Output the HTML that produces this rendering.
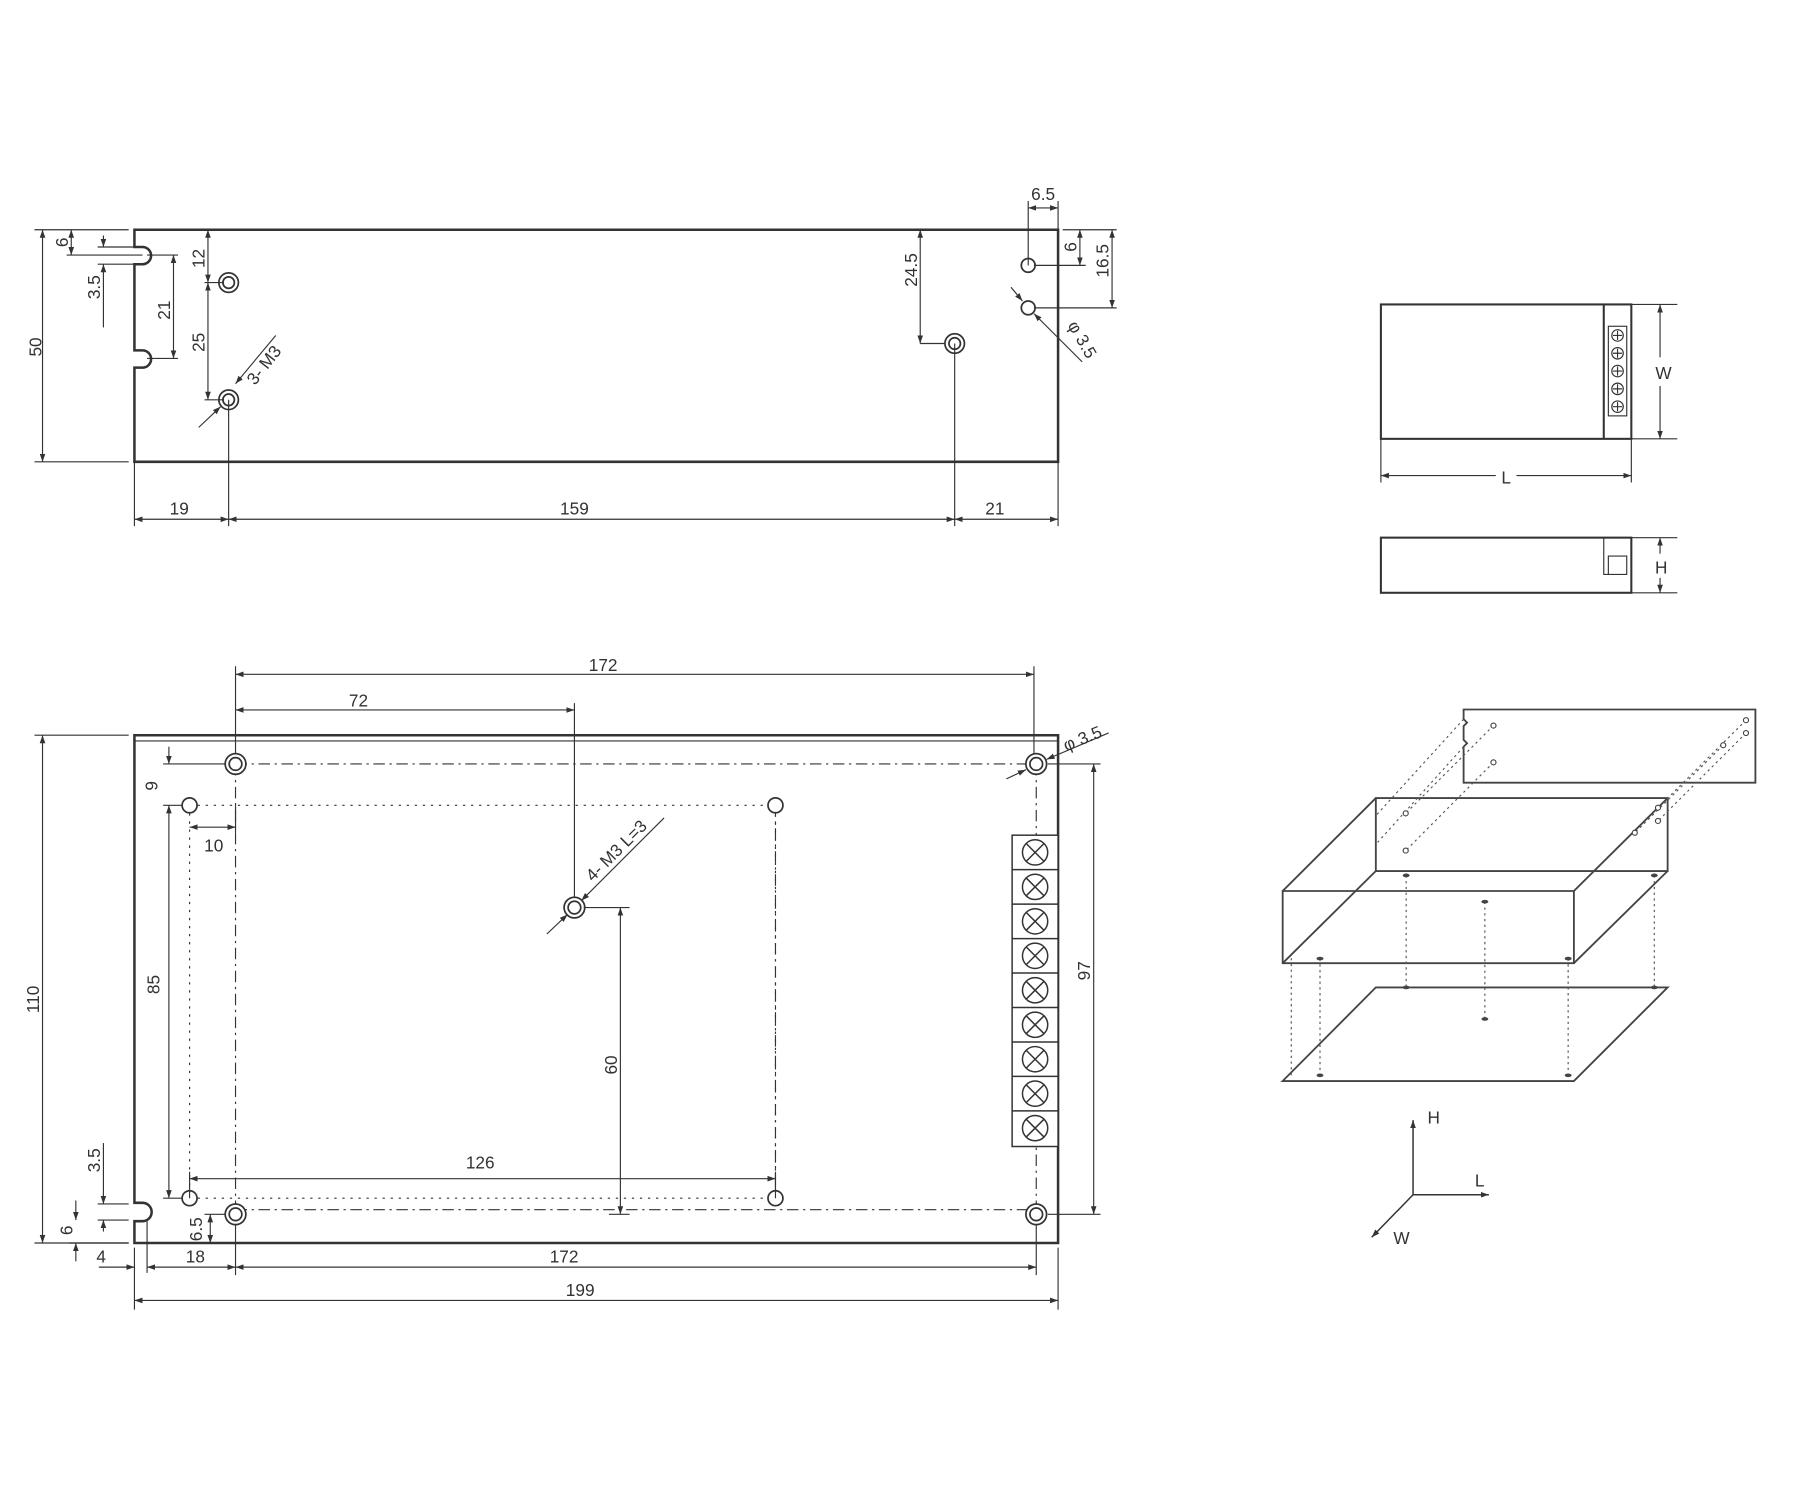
<!DOCTYPE html>
<html><head><meta charset="utf-8"><style>
html,body{margin:0;padding:0;background:#fff;width:1800px;height:1500px;overflow:hidden}
svg{display:block}
text{font-family:"Liberation Sans",sans-serif;font-size:15px;fill:#333}
</style></head><body>
<svg width="1800" height="1500" viewBox="0 0 1566.8 1305.7" xmlns="http://www.w3.org/2000/svg">
<defs>
<marker id="a" viewBox="0 0 10 10" refX="10" refY="5" markerWidth="7" markerHeight="7" orient="auto-start-reverse" markerUnits="userSpaceOnUse"><path d="M0,1.5 L10,5 L0,8.5z" fill="#333"/></marker>
</defs>
<g stroke="#333" fill="none">
<path d="M117,200 H921 V402 H117 V320 H124 A7.5,7.5 0 0 0 124,305 H117 V230 H124 A7.5,7.5 0 0 0 124,215 H117 Z" stroke-width="2.2"/>
<g stroke-width="1.5">
<circle cx="199" cy="246" r="8.5"/><circle cx="199" cy="246" r="5"/>
<circle cx="199" cy="348" r="8.5"/><circle cx="199" cy="348" r="5"/>
<circle cx="831" cy="299" r="8.5"/><circle cx="831" cy="299" r="5"/>
<circle cx="895" cy="231" r="6"/><circle cx="895" cy="268" r="6"/>
</g>
<g stroke-width="1">
<path d="M30,200 H112 M30,402 H112"/>
<line x1="37" y1="200" x2="37" y2="402" marker-start="url(#a)" marker-end="url(#a)"/>
<path d="M58,222 H124 M85,215 H117 M85,230 H117"/>
<line x1="62" y1="200" x2="62" y2="222" marker-start="url(#a)" marker-end="url(#a)"/>
<line x1="90" y1="205" x2="90" y2="215" marker-end="url(#a)"/>
<line x1="90" y1="285" x2="90" y2="230" marker-end="url(#a)"/>
<path d="M128,222 H155 M128,312 H155"/>
<line x1="151" y1="222" x2="151" y2="312" marker-start="url(#a)" marker-end="url(#a)"/>
<path d="M178,246 H195 M178,348 H195"/>
<line x1="181" y1="200" x2="181" y2="246" marker-start="url(#a)" marker-end="url(#a)"/>
<line x1="181" y1="246" x2="181" y2="348" marker-start="url(#a)" marker-end="url(#a)"/>
<line x1="240" y1="292" x2="205" y2="334" marker-end="url(#a)"/>
<line x1="173" y1="372" x2="192" y2="354" marker-end="url(#a)"/>
<path d="M801,299 H822"/>
<line x1="801" y1="200" x2="801" y2="299" marker-start="url(#a)" marker-end="url(#a)"/>
<path d="M895,175 V231 M921,175 V200"/>
<line x1="895" y1="181" x2="921" y2="181" marker-start="url(#a)" marker-end="url(#a)"/>
<path d="M925,200 H972 M900,231 H945 M900,268 H972"/>
<line x1="940" y1="200" x2="940" y2="231" marker-start="url(#a)" marker-end="url(#a)"/>
<line x1="968" y1="200" x2="968" y2="268" marker-start="url(#a)" marker-end="url(#a)"/>
<line x1="880" y1="250" x2="890" y2="262" marker-end="url(#a)"/>
<line x1="942" y1="315" x2="900" y2="273" marker-end="url(#a)"/>
<path d="M117,402 V458 M199,348 V458 M831,299 V458 M921,402 V458"/>
<line x1="117" y1="452" x2="199" y2="452" marker-start="url(#a)" marker-end="url(#a)"/>
<line x1="199" y1="452" x2="831" y2="452" marker-start="url(#a)" marker-end="url(#a)"/>
<line x1="831" y1="452" x2="921" y2="452" marker-start="url(#a)" marker-end="url(#a)"/>
</g>

<g stroke-width="1.8">
<rect x="1202" y="265" width="218" height="117"/>
<line x1="1396" y1="265" x2="1396" y2="382"/>
<rect x="1202" y="468" width="218" height="48"/>
</g>
<g stroke-width="1">
<rect x="1400" y="284" width="16" height="78"/>
<g>
<circle cx="1408" cy="292" r="5"/><circle cx="1408" cy="307.5" r="5"/><circle cx="1408" cy="323" r="5"/><circle cx="1408" cy="338.5" r="5"/><circle cx="1408" cy="354" r="5"/>
<path d="M1404,292h8M1408,288v8 M1404,307.5h8M1408,303.5v8 M1404,323h8M1408,319v8 M1404,338.5h8M1408,334.5v8 M1404,354h8M1408,350v8"/>
</g>
<path d="M1396,468 V500 H1416 V484 H1400 V500"/>
<path d="M1420,265 H1460 M1420,382 H1460 M1420,468 H1460 M1420,516 H1460 M1202,382 V420 M1420,382 V420"/>
<line x1="1445" y1="265" x2="1445" y2="311" marker-start="url(#a)"/>
<line x1="1445" y1="336" x2="1445" y2="382" marker-end="url(#a)"/>
<line x1="1445" y1="468" x2="1445" y2="482" marker-start="url(#a)"/>
<line x1="1445" y1="503" x2="1445" y2="516" marker-end="url(#a)"/>
<line x1="1202" y1="414" x2="1302" y2="414" marker-start="url(#a)"/>
<line x1="1320" y1="414" x2="1420" y2="414" marker-end="url(#a)"/>
</g>

<path d="M117,640 H921 V1082 H117 V1063 H124 A8,8 0 0 0 124,1047 H117 Z" stroke-width="2.2"/>
<line x1="117" y1="645" x2="921" y2="645" stroke-width="1"/>
<g stroke-width="1" stroke-dasharray="2,5">
<path d="M165,701 H675 V1043 M165,701 V1043 M165,1043 H675"/>
</g>
<g stroke-width="1" stroke-dasharray="10,4,2,4">
<path d="M205,665 H902 M205,1053 H902 M205,665 V1057 M902,665 V1057 M675,701 V1043"/>
</g>
<g stroke-width="1.5" fill="#fff">
<circle cx="205" cy="665" r="9"/><circle cx="205" cy="665" r="5.5"/>
<circle cx="902" cy="665" r="9"/><circle cx="902" cy="665" r="5.5"/>
<circle cx="205" cy="1057" r="9"/><circle cx="205" cy="1057" r="5.5"/>
<circle cx="902" cy="1057" r="9"/><circle cx="902" cy="1057" r="5.5"/>
<circle cx="500" cy="790" r="9"/><circle cx="500" cy="790" r="5.5"/>
<circle cx="165" cy="701" r="6.5"/><circle cx="675" cy="701" r="6.5"/>
<circle cx="165" cy="1043" r="6.5"/><circle cx="675" cy="1043" r="6.5"/>
</g>
<g stroke-width="1.3" fill="#fff">
<rect x="881" y="727" width="40" height="271"/>
<path d="M881,757h40M881,787h40M881,817h40M881,847h40M881,877h40M881,907h40M881,937h40M881,967h40"/>
<g>
<circle cx="901" cy="742" r="11"/><circle cx="901" cy="772" r="11"/><circle cx="901" cy="802" r="11"/><circle cx="901" cy="832" r="11"/><circle cx="901" cy="862" r="11"/><circle cx="901" cy="892" r="11"/><circle cx="901" cy="922" r="11"/><circle cx="901" cy="952" r="11"/><circle cx="901" cy="982" r="11"/>
</g>
<path d="M893,734l16,16M909,734l-16,16 M893,764l16,16M909,764l-16,16 M893,794l16,16M909,794l-16,16 M893,824l16,16M909,824l-16,16 M893,854l16,16M909,854l-16,16 M893,884l16,16M909,884l-16,16 M893,914l16,16M909,914l-16,16 M893,944l16,16M909,944l-16,16 M893,974l16,16M909,974l-16,16"/>
</g>
<g stroke-width="1">
<path d="M205,580 V656 M900,580 V656 M500,612 V781"/>
<line x1="205" y1="587" x2="900" y2="587" marker-start="url(#a)" marker-end="url(#a)"/>
<line x1="205" y1="618" x2="500" y2="618" marker-start="url(#a)" marker-end="url(#a)"/>
<path d="M30,640 H112 M30,1082 H112"/>
<line x1="37" y1="640" x2="37" y2="1082" marker-start="url(#a)" marker-end="url(#a)"/>
<path d="M142,665 H196 M142,701 H158"/>
<line x1="147" y1="650" x2="147" y2="665" marker-end="url(#a)"/>
<line x1="147" y1="701" x2="147" y2="1043" marker-start="url(#a)" marker-end="url(#a)"/>
<path d="M142,1043 H158 M165,1043 V1020 M675,1043 V1020 M205,701 V725"/>
<line x1="165" y1="720" x2="205" y2="720" marker-start="url(#a)" marker-end="url(#a)"/>
<line x1="165" y1="1026" x2="675" y2="1026" marker-start="url(#a)" marker-end="url(#a)"/>
<path d="M508,790 H548 M530,1057 H548"/>
<line x1="540" y1="790" x2="540" y2="1057" marker-start="url(#a)" marker-end="url(#a)"/>
<path d="M912,665 H958 M912,1057 H958"/>
<line x1="952" y1="665" x2="952" y2="1057" marker-start="url(#a)" marker-end="url(#a)"/>
<line x1="578" y1="712" x2="506" y2="784" marker-end="url(#a)"/>
<line x1="476" y1="813" x2="494" y2="796" marker-end="url(#a)"/>
<line x1="965" y1="638" x2="911" y2="661" marker-end="url(#a)"/>
<line x1="876" y1="678" x2="893" y2="670" marker-end="url(#a)"/>
<path d="M85,1048 H112 M85,1062 H112 M60,1082 H112"/>
<line x1="90" y1="995" x2="90" y2="1048" marker-end="url(#a)"/>
<line x1="90" y1="1072" x2="90" y2="1062" marker-end="url(#a)"/>
<line x1="66" y1="1045" x2="66" y2="1062" marker-end="url(#a)"/>
<line x1="66" y1="1098" x2="66" y2="1082" marker-end="url(#a)"/>
<path d="M178,1057 H196"/>
<line x1="183" y1="1057" x2="183" y2="1082" marker-start="url(#a)" marker-end="url(#a)"/>
<path d="M117,1086 V1140 M128,1063 V1108 M205,1066 V1110 M902,1066 V1110 M921,1086 V1140"/>
<line x1="86" y1="1103" x2="117" y2="1103" marker-end="url(#a)"/>
<line x1="128" y1="1103" x2="205" y2="1103" marker-start="url(#a)" marker-end="url(#a)"/>
<line x1="205" y1="1103" x2="902" y2="1103" marker-start="url(#a)" marker-end="url(#a)"/>
<line x1="117" y1="1132" x2="921" y2="1132" marker-start="url(#a)" marker-end="url(#a)"/>
</g>

<g stroke-width="1.6" stroke="#444">
<path d="M1274,617.6 H1528 V681.3 H1274 V650 l3,-3 -3,-3 V632 l3,-3 -3,-3 Z"/>
<path d="M1197.6,694.7 H1451.6 V758.2 H1197.6 Z"/>
<path d="M1116.5,775.6 H1370 V838.4 H1116.5 Z"/>
<path d="M1116.5,775.6 L1197.6,694.7 M1116.5,838.4 L1197.6,758.2 M1370,775.6 L1451.6,694.7 M1370,838.4 L1451.6,758.2"/>
<path d="M1197.6,859.5 H1451.6 L1370,941 H1116.5 Z"/>
</g>
<g stroke-width="1" stroke="#555" stroke-dasharray="2,3">
<path d="M1274,626 L1197.6,710 M1274,650 L1197.6,735 M1300,631.6 L1223.6,708 M1300,663.6 L1223.6,740.4"/>
<path d="M1519.8,626.9 L1443.2,703.1 M1519.8,638.1 L1443.2,714.6 M1500,648.7 L1423,724.9"/>
<path d="M1224,762 V859.5 M1440,762 V859.5 M1292.5,784.9 V887 M1149,834.4 V936 M1124,834 V936 M1365,834.4 V936"/>
</g>
<g stroke-width="1" stroke="#444" fill="#fff">
<circle cx="1300" cy="631.6" r="2.2"/><circle cx="1300" cy="663.6" r="2.2"/><circle cx="1500" cy="648.7" r="2.2"/><circle cx="1519.8" cy="626.9" r="2.2"/><circle cx="1519.8" cy="638.1" r="2.2"/>
<circle cx="1223.6" cy="708" r="2.2"/><circle cx="1223.6" cy="740.4" r="2.2"/><circle cx="1423" cy="724.9" r="2.2"/><circle cx="1443.2" cy="703.1" r="2.2"/><circle cx="1443.2" cy="714.6" r="2.2"/>
</g>
<g fill="#444" stroke="none">
<ellipse cx="1224" cy="762" rx="3" ry="1.6"/><ellipse cx="1440" cy="762" rx="3" ry="1.6"/><ellipse cx="1292.5" cy="784.9" rx="3" ry="1.6"/><ellipse cx="1149" cy="834.4" rx="3" ry="1.6"/><ellipse cx="1365" cy="834.4" rx="3" ry="1.6"/>
<ellipse cx="1224" cy="859.5" rx="3" ry="1.6"/><ellipse cx="1440" cy="859.5" rx="3" ry="1.6"/><ellipse cx="1292.5" cy="887" rx="3" ry="1.6"/><ellipse cx="1149" cy="936" rx="3" ry="1.6"/><ellipse cx="1365" cy="936" rx="3" ry="1.6"/>
</g>
<g stroke-width="1.3">
<line x1="1230" y1="1040" x2="1230" y2="975" marker-end="url(#a)"/>
<line x1="1230" y1="1040" x2="1296" y2="1040" marker-end="url(#a)"/>
<line x1="1230" y1="1040" x2="1194" y2="1077" marker-end="url(#a)"/>
</g>
</g>

<g>
<text transform="translate(36,302) rotate(-90)" text-anchor="middle">50</text>
<text transform="translate(59,211) rotate(-90)" text-anchor="middle">6</text>
<text transform="translate(87,250) rotate(-90)" text-anchor="middle">3.5</text>
<text transform="translate(148,270) rotate(-90)" text-anchor="middle">21</text>
<text transform="translate(178,225) rotate(-90)" text-anchor="middle">12</text>
<text transform="translate(178,298) rotate(-90)" text-anchor="middle">25</text>
<text transform="translate(222,336) rotate(-52)">3- M3</text>
<text transform="translate(798,235) rotate(-90)" text-anchor="middle">24.5</text>
<text x="908" y="174" text-anchor="middle">6.5</text>
<text transform="translate(937,215) rotate(-90)" text-anchor="middle">6</text>
<text transform="translate(965,227) rotate(-90)" text-anchor="middle">16.5</text>
<text transform="translate(929,283) rotate(60)">φ 3.5</text>
<text x="156" y="448" text-anchor="middle">19</text>
<text x="500" y="448" text-anchor="middle">159</text>
<text x="866" y="448" text-anchor="middle">21</text>
<text x="1448" y="330" text-anchor="middle" font-size="18">W</text>
<text x="1311" y="421" text-anchor="middle" font-size="18">L</text>
<text x="1446" y="499" text-anchor="middle" font-size="18">H</text>
<text x="525" y="584" text-anchor="middle">172</text>
<text x="312" y="615" text-anchor="middle">72</text>
<text transform="translate(34,870) rotate(-90)" text-anchor="middle">110</text>
<text transform="translate(137,684) rotate(-90)" text-anchor="middle">9</text>
<text x="186" y="741" text-anchor="middle">10</text>
<text transform="translate(139,857) rotate(-90)" text-anchor="middle">85</text>
<text x="418" y="1017" text-anchor="middle">126</text>
<text transform="translate(537,927) rotate(-90)" text-anchor="middle">60</text>
<text transform="translate(949,845) rotate(-90)" text-anchor="middle">97</text>
<text transform="translate(516,768) rotate(-45)">4- M3 L=3</text>
<text transform="translate(928,654) rotate(-22)">φ 3.5</text>
<text transform="translate(87,1010) rotate(-90)" text-anchor="middle">3.5</text>
<text transform="translate(63,1071) rotate(-90)" text-anchor="middle">6</text>
<text transform="translate(176,1070) rotate(-90)" text-anchor="middle">6.5</text>
<text x="88" y="1099" text-anchor="middle">4</text>
<text x="170" y="1099" text-anchor="middle">18</text>
<text x="491" y="1099" text-anchor="middle">172</text>
<text x="505" y="1128" text-anchor="middle">199</text>
<text x="1248" y="978" text-anchor="middle">H</text>
<text x="1288" y="1033" text-anchor="middle">L</text>
<text x="1220" y="1083" text-anchor="middle">W</text>
</g>
</svg>
</body></html>
